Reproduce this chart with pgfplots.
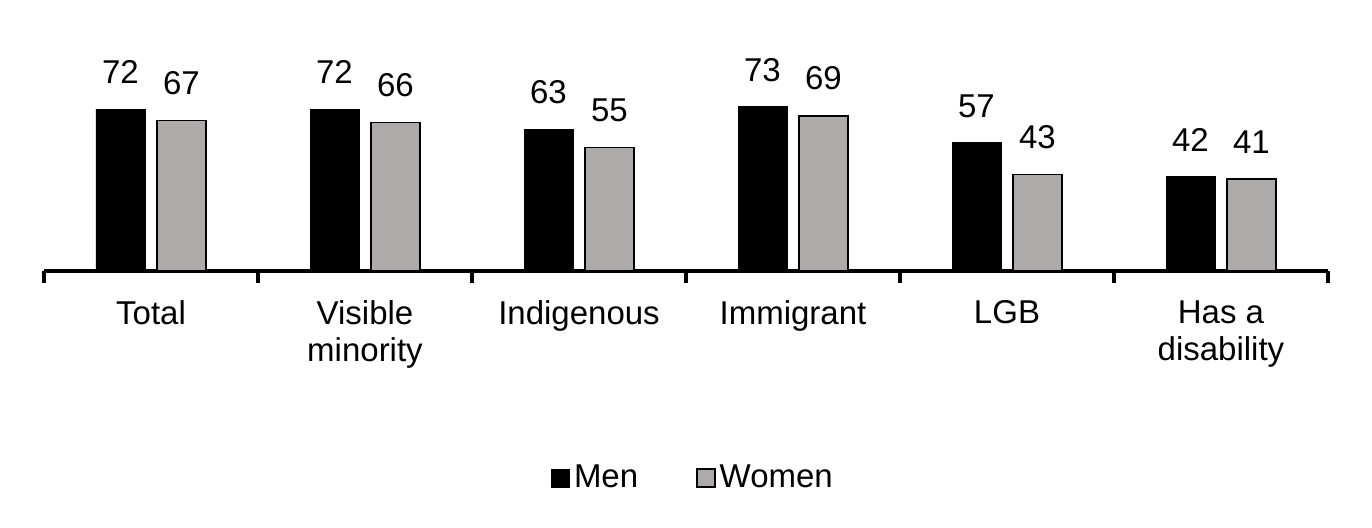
\documentclass[border=0pt]{standalone}
\usepackage{fontspec}
\setmainfont{Liberation Sans}
\usepackage{pgfplots}
\pgfplotsset{compat=1.18}
\definecolor{womengray}{HTML}{AEAAAA}

\begin{document}
\begin{tikzpicture}
\useasboundingbox (-22pt,-128pt) rectangle (664pt,135.5pt);
\begin{axis}[
    at={(0pt,0pt)}, anchor=south west,
    width=642pt, height=135pt, scale only axis,
    xmin=-0.5, xmax=5.5, ymin=0, ymax=120,
    ybar=6pt, bar width=24.5pt,
    axis x line*=bottom, axis y line=none,
    x axis line style={line width=2pt, -},
    xtick={0,...,5},
    xticklabels={Total, Visible\\minority, Indigenous, Immigrant, LGB, Has a\\disability},
    major tick length=0pt,
    minor xtick={-0.5,0.5,...,5.5},
    minor tick length=6pt,
    tick align=outside,
    minor tick style={line width=2pt, black},
    xticklabel style={align=center, font=\fontsize{16.5}{18.5}\selectfont, inner sep=0pt, yshift=-14.5pt},
    /pgf/number format/assume math mode=true,
    nodes near coords,
    every node near coord/.append style={font=\fontsize{16.5}{18.5}\selectfont, inner sep=0pt, anchor=south, yshift=12.5pt},
    legend style={at={(0.5,0)}, anchor=center, xshift=4pt, yshift=-103.5pt, draw=none,
        font=\fontsize{16.5}{18.5}\selectfont,
        /tikz/every even column/.append style={column sep=27pt}},
    legend columns=2,
    legend image code/.code={\draw[#1] (0pt,-4.5pt) rectangle (9pt,4.5pt);},
    clip=false,
]
\addplot[fill=black, draw=black] coordinates {(0,72) (1,72) (2,63) (3,73) (4,57) (5,42)};
\addplot[fill=womengray, draw=black, line width=0.75pt] coordinates {(0,67) (1,66) (2,55) (3,69) (4,43) (5,41)};
\legend{Men, Women}
\end{axis}
\end{tikzpicture}
\end{document}
